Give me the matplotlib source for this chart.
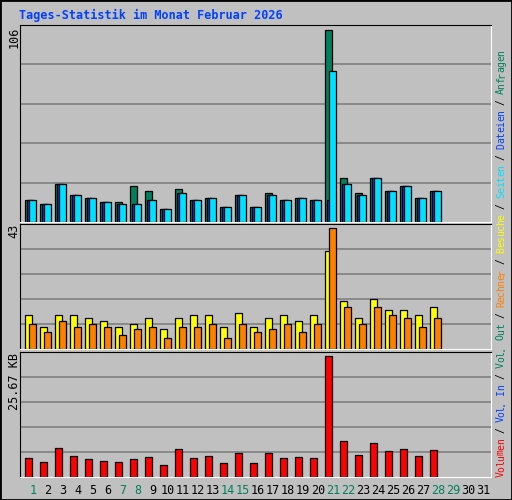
import numpy as np
import matplotlib
matplotlib.use("Agg")
import matplotlib.pyplot as plt

days = np.arange(1, 32)
n = 28
anfragen = [12, 10, 21, 15, 13.5, 11, 11, 20, 17, 7, 18, 12, 13.5, 8.5, 15, 8.5, 16, 12, 13.5, 12, 106, 24.5, 16, 24.5, 17, 19.6, 13.5, 17]
seiten = [12, 10, 21, 15, 13, 11, 10, 10, 12, 7, 16, 12, 13, 8, 15, 8, 15, 12, 13, 12, 83, 21, 15, 24.5, 17, 20, 13, 17]
dateien = [12, 10, 21, 15, 13, 11, 10, 10, 12, 7, 16, 12, 13, 8, 15, 8, 15, 12, 13, 12, 12, 21, 15, 24.5, 17, 20, 13, 17]
besuche = [12, 8, 12, 12, 11, 10, 8, 9, 11, 7, 11, 12, 12, 8, 13, 8, 11, 12, 10, 12, 35, 17, 11, 18, 14, 14, 12, 15]
rechner = [9, 6, 10, 8, 9, 8, 5, 7, 8, 4, 8, 8, 9, 4, 9, 6, 7, 9, 6, 9, 43, 15, 9, 15, 12, 11, 8, 11]
volumen = [4.0, 3.1, 6.1, 4.4, 3.8, 3.4, 3.1, 3.8, 4.2, 2.5, 5.9, 4.0, 4.4, 2.9, 5.1, 2.9, 5.1, 4.0, 4.2, 4.0, 25.67, 7.6, 4.6, 7.2, 5.5, 5.9, 4.4, 5.7]
weekend = [1, 7, 8, 14, 15, 21, 22, 28, 29]

BG = "#C0C0C0"
GREEN = "#00805C"
BLUE = "#0040FF"
CYAN = "#00E0FF"
YELLOW = "#FFFF00"
ORANGE = "#FF8000"
RED = "#FF0000"
MONO = "DejaVu Sans Mono"

W, H = 512, 500
fig = plt.figure(figsize=(W / 100, H / 100), dpi=100, facecolor=BG)
fig.patches.append(plt.Rectangle((0, 0), 1, 1, transform=fig.transFigure,
                                 fill=False, edgecolor="black", lw=2))

def panel(top, bottom, ymax):
    ax = fig.add_axes([20 / W, 1 - bottom / H, 471 / W, (bottom - top) / H])
    ax.set_facecolor(BG)
    ax.set_xlim(0.13, 31.53)
    ax.set_ylim(0, ymax)
    for f in (0.2, 0.4, 0.6, 0.8):
        ax.axhline(ymax * f, color="#808080", lw=1.2, zorder=0)
    ax.set_xticks([])
    ax.set_yticks([])
    for s in ("top", "left"):
        ax.spines[s].set_color("black")
    for s in ("bottom", "right"):
        ax.spines[s].set_color("white")
    return ax

x = np.arange(1, n + 1)
bw = 0.47
kw = dict(width=bw, align="edge", edgecolor="black", linewidth=0.9)

ax1 = panel(25, 222, 108.6)
ax1.bar(x - 0.52, anfragen, color=GREEN, **kw)
ax1.bar(x - 0.39, dateien, color=BLUE, **kw)
ax1.bar(x - 0.25, seiten, color=CYAN, **kw)

ax2 = panel(224, 349, 44.6)
ax2.bar(x - 0.52, besuche, color=YELLOW, **kw)
ax2.bar(x - 0.25, rechner, color=ORANGE, **kw)

ax3 = panel(352, 477, 26.5)
ax3.bar(x - 0.52, volumen, color=RED, **kw)

# day labels
for d in days:
    fig.text((20 + (d - 0.13) * 15) / W, 1 - 490 / H, str(d), ha="center", va="center",
             family=MONO, fontsize=8.5, color=GREEN if d in weekend else "black")

# max labels
for txt, y in (("106", 27), ("43", 224), ("25.67 KB", 353)):
    fig.text(14 / W, 1 - y / H, txt, rotation=90, ha="center", va="top",
             family=MONO, fontsize=8.5, color="black")

fig.text(19 / W, 1 - 15 / H, "Tages-Statistik im Monat Februar 2026", ha="left", va="center",
         family=MONO, fontsize=8.5, weight="bold", color=BLUE)

# right legend, drawn char by char upward
parts = [("Volumen", RED), (" / ", "black"), ("Vol. In", BLUE), (" / ", "black"),
         ("Vol. Out", GREEN), (" / ", "black"), ("Rechner", ORANGE), (" / ", "black"),
         ("Besuche", YELLOW), (" / ", "black"), ("Seiten", CYAN), (" / ", "black"),
         ("Dateien", BLUE), (" / ", "black"), ("Anfragen", GREEN)]
step = 427 / 78
pos = 477
for s, c in parts:
    for ch in s:
        if ch != " ":
            fig.text(501 / W, 1 - (pos - step / 2) / H, ch, rotation=90, ha="center",
                     va="center", family=MONO, fontsize=7, color=c)
        pos -= step

fig.savefig("out.png", dpi=100, facecolor=BG)
